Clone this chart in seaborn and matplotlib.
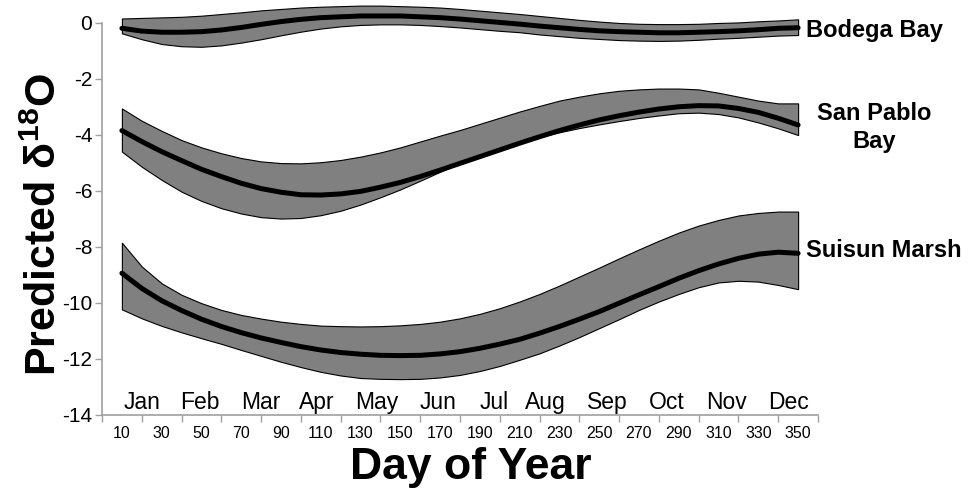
import numpy as np
import pandas as pd
import matplotlib
matplotlib.use("Agg")
import matplotlib.pyplot as plt
import seaborn as sns

# ---- data ----
days = list(range(10, 351, 10))

bodega_mid = [-0.20, -0.30, -0.34, -0.34, -0.32, -0.26, -0.17, -0.06, 0.04, 0.12,
              0.18, 0.21, 0.24, 0.24, 0.24, 0.21, 0.18, 0.13, 0.07, 0.01,
              -0.05, -0.12, -0.18, -0.24, -0.29, -0.32, -0.34, -0.36, -0.36, -0.34,
              -0.32, -0.29, -0.25, -0.20, -0.18]
bodega_hi = [0.15, 0.17, 0.19, 0.21, 0.25, 0.31, 0.37, 0.44, 0.49, 0.54,
             0.57, 0.59, 0.61, 0.61, 0.59, 0.57, 0.54, 0.49, 0.43, 0.37,
             0.31, 0.24, 0.17, 0.10, 0.04, -0.01, -0.04, -0.05, -0.05, -0.04,
             -0.01, 0.01, 0.05, 0.08, 0.12]
bodega_lo = [-0.38, -0.59, -0.76, -0.84, -0.86, -0.81, -0.71, -0.59, -0.45, -0.32,
             -0.21, -0.13, -0.08, -0.06, -0.06, -0.08, -0.12, -0.17, -0.23, -0.29,
             -0.34, -0.42, -0.48, -0.54, -0.58, -0.62, -0.64, -0.65, -0.64, -0.61,
             -0.57, -0.54, -0.50, -0.46, -0.44]

sanpablo_mid = [-3.85, -4.24, -4.60, -4.92, -5.23, -5.49, -5.73, -5.92, -6.05, -6.14,
                -6.15, -6.11, -6.02, -5.87, -5.70, -5.49, -5.26, -5.02, -4.78, -4.54,
                -4.30, -4.07, -3.85, -3.65, -3.47, -3.32, -3.19, -3.08, -3.00, -2.96,
                -2.97, -3.06, -3.20, -3.41, -3.65]
sanpablo_hi = [-3.06, -3.50, -3.86, -4.19, -4.45, -4.66, -4.83, -4.95, -5.01, -5.02,
               -4.98, -4.90, -4.78, -4.63, -4.45, -4.24, -4.03, -3.83, -3.61, -3.39,
               -3.17, -2.97, -2.78, -2.64, -2.52, -2.43, -2.38, -2.35, -2.35, -2.38,
               -2.50, -2.64, -2.78, -2.88, -2.88]
sanpablo_lo = [-4.60, -5.14, -5.61, -6.03, -6.36, -6.62, -6.81, -6.94, -6.99, -6.97,
               -6.87, -6.71, -6.49, -6.23, -5.95, -5.64, -5.32, -5.02, -4.73, -4.48,
               -4.27, -4.08, -3.91, -3.76, -3.63, -3.51, -3.40, -3.31, -3.23, -3.21,
               -3.26, -3.38, -3.56, -3.77, -4.01]

suisun_mid = [-8.94, -9.48, -9.92, -10.27, -10.58, -10.84, -11.06, -11.25, -11.41, -11.56,
              -11.68, -11.77, -11.83, -11.87, -11.88, -11.87, -11.82, -11.74, -11.62, -11.47,
              -11.30, -11.08, -10.84, -10.58, -10.31, -10.01, -9.71, -9.42, -9.12, -8.85,
              -8.61, -8.41, -8.26, -8.19, -8.23]
suisun_hi = [-7.85, -8.70, -9.30, -9.71, -10.01, -10.25, -10.43, -10.56, -10.67, -10.75,
             -10.81, -10.83, -10.84, -10.83, -10.80, -10.75, -10.67, -10.55, -10.39, -10.19,
             -9.95, -9.68, -9.38, -9.06, -8.74, -8.41, -8.09, -7.78, -7.49, -7.24,
             -7.04, -6.88, -6.79, -6.74, -6.74]
suisun_lo = [-10.23, -10.55, -10.82, -11.05, -11.26, -11.46, -11.68, -11.89, -12.10, -12.29,
             -12.46, -12.59, -12.68, -12.71, -12.72, -12.71, -12.66, -12.57, -12.43, -12.25,
             -12.03, -11.80, -11.52, -11.22, -10.90, -10.58, -10.25, -9.95, -9.68, -9.44,
             -9.27, -9.21, -9.24, -9.36, -9.51]

sites = ["Bodega Bay", "San Pablo\nBay", "Suisun Marsh"]
site_label_y = [-0.28, -3.75, -8.12]

months = ["Jan", "Feb", "Mar", "Apr", "May", "Jun", "Jul", "Aug", "Sep", "Oct", "Nov", "Dec"]
month_pos = [20, 49, 80, 108, 138, 169, 197, 223, 254, 284, 314, 345]

xtick_vals = list(range(10, 360, 20))
ytick_vals = list(range(-14, 1, 2))

# ---- style ----
sns.set_theme(style="white")
plt.rcParams["font.family"] = ["Liberation Sans", "DejaVu Sans"]
plt.rcParams["axes.unicode_minus"] = False
plt.rcParams["text.color"] = "black"
plt.rcParams["axes.labelcolor"] = "black"
plt.rcParams["xtick.color"] = "black"
plt.rcParams["ytick.color"] = "black"
plt.rcParams["mathtext.fontset"] = "custom"
plt.rcParams["mathtext.rm"] = "Liberation Sans:bold"
plt.rcParams["mathtext.bf"] = "Liberation Sans:bold"
plt.rcParams["mathtext.it"] = "Liberation Sans:bold"

df = pd.concat([
    pd.DataFrame({"day": days, "mid": m, "lo": lo, "hi": hi, "site": s})
    for s, m, lo, hi in zip(sites,
                            [bodega_mid, sanpablo_mid, suisun_mid],
                            [bodega_lo, sanpablo_lo, suisun_lo],
                            [bodega_hi, sanpablo_hi, suisun_hi])
], ignore_index=True)

fig = plt.figure(figsize=(9.76, 4.96), dpi=100)
ax = fig.add_axes([102 / 976, 1 - 415 / 496, 716 / 976, 415 / 496])

for s in sites:
    d = df[df["site"] == s]
    ax.fill_between(d["day"], d["lo"], d["hi"], facecolor="#808080",
                    edgecolor="black", linewidth=0.8, zorder=2)

sns.lineplot(data=df, x="day", y="mid", units="site", estimator=None,
             color="black", linewidth=3.6, ax=ax, zorder=3, legend=False,
             solid_joinstyle="round")

for s, yy in zip(sites, site_label_y):
    if "\n" in s:
        ax.text(388, yy, s, ha="center", va="center", fontsize=17,
                fontweight="bold", linespacing=1.3, clip_on=False)
    else:
        ax.text(354, yy, s, ha="left", va="center", fontsize=17,
                fontweight="bold", clip_on=False)

for m, p in zip(months, month_pos):
    ax.text(p, -13.8, m, ha="center", va="baseline", fontsize=16.5)

ax.set_xlim(0, 360)
ax.set_ylim(-14, 0.81)

ax.set_xticks(xtick_vals)
ax.set_xticklabels([str(v) for v in xtick_vals], fontsize=11.5)
ax.set_xticks(list(range(0, 361, 20)), minor=True)
ax.tick_params(axis="x", which="major", length=0, pad=8, labelcolor="black")
ax.tick_params(axis="x", which="minor", length=5, width=1, color="#a0a0a0",
               direction="out", bottom=True)

ax.set_yticks(ytick_vals)
ax.set_yticklabels([str(v) for v in ytick_vals], fontsize=15)
ax.tick_params(axis="y", which="major", length=5, width=1, color="#a0a0a0",
               direction="out", left=True, pad=2, labelcolor="black")

for sp in ["top", "right"]:
    ax.spines[sp].set_visible(False)
for sp in ["left", "bottom"]:
    ax.spines[sp].set_color("#a0a0a0")
    ax.spines[sp].set_linewidth(1.2)
ax.spines["left"].set_bounds(-14, 0)

ax.set_xlabel("Day of Year", fontsize=32, fontweight="bold")
ax.set_ylabel("Predicted δ$^{18}$O", fontsize=31, fontweight="bold")
ax.xaxis.set_label_coords(0.515, -0.078)
ax.yaxis.set_label_coords(-0.052, 0.458)

fig.savefig("out.png", dpi=100)
